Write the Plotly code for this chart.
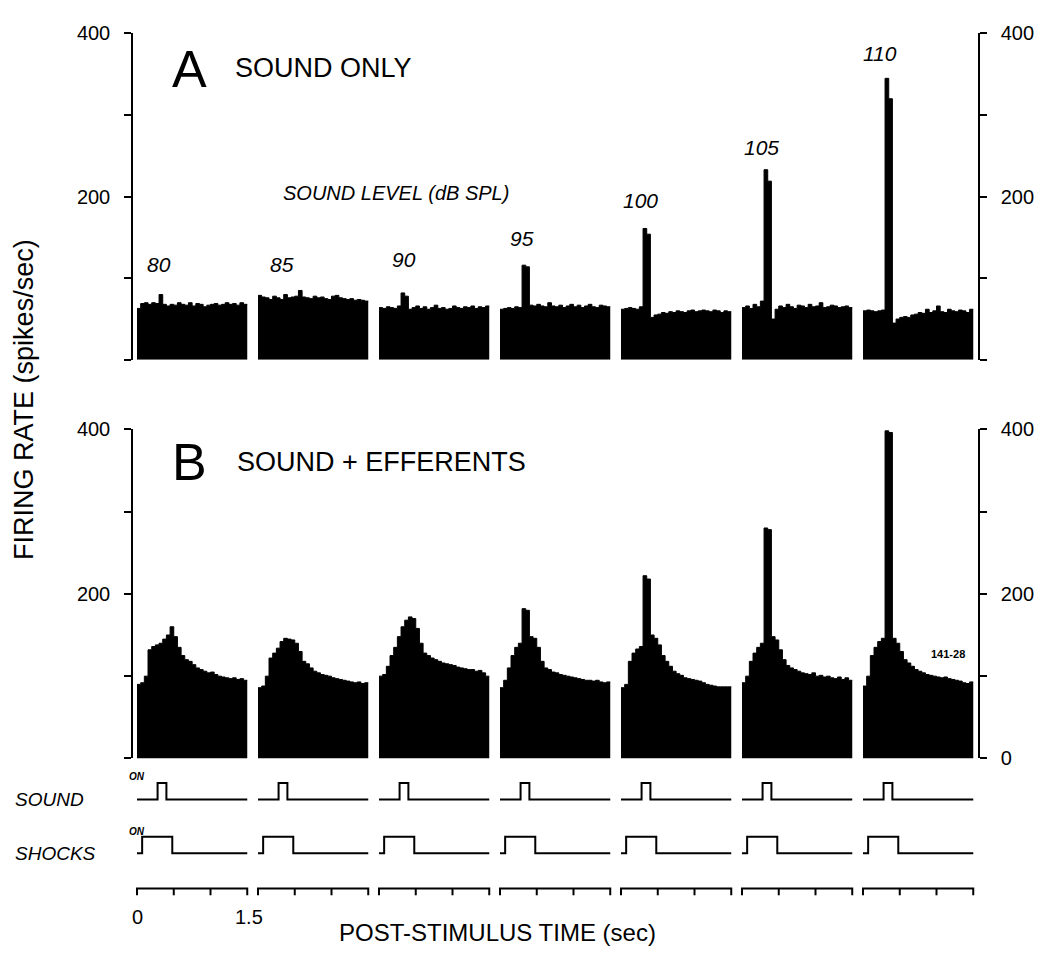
import plotly.graph_objects as go

W, H = 1038, 961
FONT = "Liberation Sans, Arial, Helvetica, sans-serif"

# ---------------- data ----------------
levels_db = [80, 85, 90, 95, 100, 105, 110]
bin_width_s = 0.05
segment_duration_s = 1.5

# Panel A: sound only (spikes/sec), 0.05 s bins over 1.5 s
sound_only_80 = [63, 69, 70, 68, 70, 69, 80, 68, 66, 68, 67, 70, 68, 67, 70, 66, 69, 68, 65, 67, 68, 69, 67, 68, 70, 68, 69, 67, 70, 68]
sound_only_85 = [79, 77, 76, 74, 78, 76, 74, 80, 76, 77, 78, 85, 77, 76, 75, 78, 76, 77, 75, 74, 78, 79, 76, 75, 74, 75, 73, 74, 73, 72]
sound_only_90 = [64, 63, 65, 64, 63, 66, 82, 78, 62, 64, 66, 63, 65, 62, 64, 67, 63, 64, 62, 63, 66, 64, 63, 65, 64, 66, 63, 65, 64, 66]
sound_only_95 = [62, 63, 64, 63, 65, 64, 116, 114, 67, 66, 68, 66, 65, 70, 66, 65, 67, 64, 66, 68, 65, 67, 64, 66, 68, 65, 64, 67, 66, 65]
sound_only_100 = [62, 63, 64, 63, 62, 65, 161, 154, 52, 55, 56, 58, 57, 59, 58, 60, 59, 58, 60, 61, 59, 60, 61, 60, 59, 61, 60, 58, 60, 59]
sound_only_105 = [64, 66, 63, 68, 65, 72, 233, 219, 50, 62, 66, 64, 68, 65, 63, 67, 66, 64, 68, 65, 66, 70, 64, 65, 67, 66, 64, 65, 66, 64]
sound_only_110 = [60, 61, 60, 59, 60, 61, 345, 320, 45, 50, 52, 53, 52, 55, 56, 58, 57, 62, 58, 60, 66, 59, 58, 62, 60, 59, 61, 60, 58, 62]

# Panel B: sound + efferent shocks (spikes/sec)
efferent_80 = [90, 92, 100, 132, 136, 138, 140, 145, 150, 160, 148, 135, 125, 120, 118, 114, 110, 108, 106, 104, 105, 102, 100, 99, 98, 97, 98, 96, 97, 95]
efferent_85 = [86, 88, 100, 122, 128, 134, 142, 146, 145, 144, 140, 130, 118, 115, 110, 106, 104, 102, 101, 100, 98, 97, 96, 95, 94, 93, 92, 93, 91, 92]
efferent_90 = [100, 102, 112, 125, 135, 148, 160, 168, 172, 170, 158, 140, 128, 125, 122, 120, 118, 116, 115, 114, 113, 111, 110, 109, 108, 108, 106, 107, 104, 100]
efferent_95 = [86, 95, 110, 125, 135, 140, 182, 180, 148, 146, 135, 118, 110, 108, 105, 104, 102, 101, 100, 99, 98, 97, 96, 95, 95, 94, 95, 93, 92, 93]
efferent_100 = [86, 90, 118, 128, 133, 136, 222, 218, 150, 146, 138, 125, 118, 112, 106, 103, 101, 98, 97, 96, 95, 94, 92, 90, 89, 88, 87, 87, 87, 87]
efferent_105 = [92, 100, 118, 128, 135, 140, 280, 278, 148, 144, 132, 120, 113, 110, 108, 106, 104, 103, 102, 104, 100, 101, 99, 100, 98, 97, 99, 96, 98, 95]
efferent_110 = [88, 100, 125, 135, 142, 146, 398, 396, 146, 140, 130, 120, 116, 112, 108, 106, 104, 102, 101, 100, 99, 98, 99, 97, 96, 95, 94, 92, 91, 93]

# stimulus timing (s)
sound_on_s, sound_off_s = 0.28, 0.40
shocks_on_s, shocks_off_s = 0.07, 0.48
time_ticks_s = [0, 0.5, 1.0, 1.5]
rate_ticks = [0, 100, 200, 300, 400]
left_tick_text = ["", "", "200", "", "400"]
right_tick_text_a = ["", "", "200", "", "400"]
right_tick_text_b = ["0", "", "200", "", "400"]

sound_only = [sound_only_80, sound_only_85, sound_only_90, sound_only_95,
              sound_only_100, sound_only_105, sound_only_110]
efferent = [efferent_80, efferent_85, efferent_90, efferent_95,
            efferent_100, efferent_105, efferent_110]

# ---------------- geometry ----------------
px_per_s = 73.5
t0_px = 137.0
seg_pitch_s = 121.0 / px_per_s
x_range = [-t0_px / px_per_s, (W - t0_px) / px_per_s]


def px_x(p):
    return p / W


def px_y(p):
    return 1 - p / H


fig = go.Figure()

# PSTH histograms drawn as filled step outlines
for k, (a_vals, b_vals) in enumerate(zip(sound_only, efferent)):
    off = k * seg_pitch_s
    edges = [off + i * bin_width_s for i in range(len(a_vals) + 1)]
    for vals, ax in ((a_vals, "y"), (b_vals, "y2")):
        fig.add_trace(go.Scatter(
            x=edges, y=list(vals) + [vals[-1]], xaxis="x", yaxis=ax,
            mode="lines", line=dict(color="black", width=1, shape="hv"),
            fill="tozeroy", fillcolor="black",
            showlegend=False, hoverinfo="skip"))

# dummy traces so right-hand axes get drawn
for ax in ("y3", "y4"):
    fig.add_trace(go.Scatter(x=[0], y=[0], xaxis="x", yaxis=ax, mode="markers",
                             marker=dict(opacity=0), showlegend=False, hoverinfo="skip"))

# stimulus rows (y5 in pixels measured from bottom)
sound_base, sound_top = H - 807, H - 790
shock_base, shock_top = H - 862, H - 845
scale_line, scale_tick = H - 898, H - 905

sx, sy, hx, hy, tx, ty = [], [], [], [], [], []
for k in range(len(levels_db)):
    off = k * seg_pitch_s
    sx += [off, off + sound_on_s, off + sound_on_s, off + sound_off_s, off + sound_off_s, off + segment_duration_s, None]
    sy += [sound_base, sound_base, sound_top, sound_top, sound_base, sound_base, None]
    hx += [off, off + shocks_on_s, off + shocks_on_s, off + shocks_off_s, off + shocks_off_s, off + segment_duration_s, None]
    hy += [shock_base, shock_base, shock_top, shock_top, shock_base, shock_base, None]
    tx += [off + time_ticks_s[0], off + time_ticks_s[0], off + time_ticks_s[-1], off + time_ticks_s[-1], None]
    ty += [scale_tick, scale_line, scale_line, scale_tick, None]
    for tt in time_ticks_s[1:-1]:
        tx += [off + tt, off + tt, None]
        ty += [scale_line, scale_tick, None]

for xx, yy in ((sx, sy), (hx, hy), (tx, ty)):
    fig.add_trace(go.Scatter(x=xx, y=yy, xaxis="x", yaxis="y5", mode="lines",
                             line=dict(color="black", width=2), showlegend=False,
                             hoverinfo="skip", connectgaps=False))

axis_common = dict(range=[0, 400], showline=True, linecolor="black", linewidth=1.5,
                   ticks="outside", ticklen=7, tickwidth=1.5, tickcolor="black",
                   tickvals=rate_ticks, showgrid=False, zeroline=False,
                   tickfont=dict(family=FONT, size=20, color="black"),
                   anchor="free", fixedrange=True)

dom_a = [px_y(357), px_y(23)]
dom_b = [px_y(765), px_y(428)]

fig.update_layout(
    width=W, height=H, margin=dict(l=0, r=0, t=0, b=0),
    paper_bgcolor="white", plot_bgcolor="rgba(0,0,0,0)",
    font=dict(family=FONT, color="black"),
    xaxis=dict(domain=[0, 1], range=x_range, visible=False, fixedrange=True),
    yaxis=dict(domain=dom_a, position=px_x(132), side="left",
               ticktext=left_tick_text, ticklabelstandoff=10, **axis_common),
    yaxis2=dict(domain=dom_b, position=px_x(132), side="left",
                ticktext=left_tick_text, ticklabelstandoff=10, **axis_common),
    yaxis3=dict(overlaying="y", position=px_x(979), side="right",
                ticktext=right_tick_text_a, ticklabelstandoff=10, **axis_common),
    yaxis4=dict(overlaying="y2", position=px_x(979), side="right",
                ticktext=right_tick_text_b, ticklabelstandoff=10, **axis_common),
    yaxis5=dict(domain=[0, 1], range=[0, H], visible=False, fixedrange=True),
)

ann = []


def add_text(text, xp, yp, size, xanchor="center", angle=0):
    ann.append(dict(text=text, x=px_x(xp), y=px_y(yp), xref="paper", yref="paper",
                    xanchor=xanchor, yanchor="middle", showarrow=False, textangle=angle,
                    font=dict(family=FONT, size=size, color="black")))


add_text("A", 189, 59, 52)
add_text("SOUND ONLY", 233, 58, 27, xanchor="left")
add_text("B", 189, 462, 52)
add_text("SOUND + EFFERENTS", 235, 462, 27, xanchor="left")
add_text("<i>SOUND LEVEL (dB SPL)</i>", 396, 186, 20)

level_label_t = [0.30, 0.33, 0.34, 0.30, 0.26, 0.26, 0.23]
level_label_rate = [117, 117, 123, 149, 195, 260, 376]
for k, (db, lt, lr) in enumerate(zip(levels_db, level_label_t, level_label_rate)):
    ann.append(dict(text="<i>%d</i>" % db, x=k * seg_pitch_s + lt, y=lr, xref="x", yref="y",
                    showarrow=False, xanchor="center", yanchor="middle",
                    font=dict(family=FONT, size=21, color="black")))

add_text("<b>141-28</b>", 948, 658, 11)
add_text("FIRING RATE (spikes/sec)", 24, 398, 27, angle=-90)
add_text("POST-STIMULUS TIME (sec)", 497, 943, 24)
add_text("<i>SOUND</i>", 13, 807, 19, xanchor="left")
add_text("<i>SHOCKS</i>", 13, 862, 19, xanchor="left")
add_text("<b><i>ON</i></b>", 137, 783, 10)
add_text("<b><i>ON</i></b>", 137, 840, 10)
add_text("0", 137, 927, 20)
add_text("1.5", 249, 927, 20)

fig.update_layout(annotations=ann)
fig.write_html("out.html")
